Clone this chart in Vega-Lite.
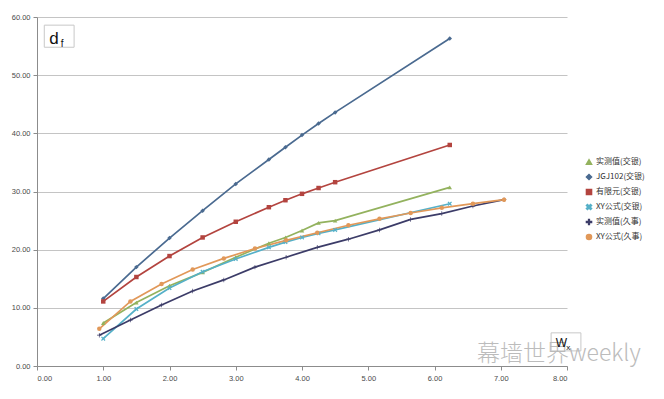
{
  "$schema": "https://vega.github.io/schema/vega-lite/v6.json",
  "width": 530,
  "height": 349,
  "autosize": "none",
  "padding": {"left": 37, "top": 17, "right": 97, "bottom": 33},
  "background": "white",
  "config": {
    "view": {"stroke": null},
    "font": "Liberation Sans",
    "axis": {"labelFont": "Liberation Sans", "labelFontSize": 7.5, "labelColor": "#4a4a4a", "domainColor": "#8c8c8c", "tickColor": "#8c8c8c", "tickSize": 4}
  },
  "datasets": {
    "main": [
      {"s": "实测值(交银)", "w": 1.0, "d": 7.4}, {"s": "实测值(交银)", "w": 1.5, "d": 10.9}, {"s": "实测值(交银)", "w": 2.0, "d": 13.8}, {"s": "实测值(交银)", "w": 2.5, "d": 16.1}, {"s": "实测值(交银)", "w": 3.0, "d": 18.7}, {"s": "实测值(交银)", "w": 3.5, "d": 21.1}, {"s": "实测值(交银)", "w": 3.75, "d": 22.1}, {"s": "实测值(交银)", "w": 4.0, "d": 23.3}, {"s": "实测值(交银)", "w": 4.25, "d": 24.6}, {"s": "实测值(交银)", "w": 4.5, "d": 25.0}, {"s": "实测值(交银)", "w": 6.23, "d": 30.7},
      {"s": "JGJ102(交银)", "w": 1.0, "d": 11.6}, {"s": "JGJ102(交银)", "w": 1.5, "d": 17.0}, {"s": "JGJ102(交银)", "w": 2.0, "d": 22.0}, {"s": "JGJ102(交银)", "w": 2.5, "d": 26.7}, {"s": "JGJ102(交银)", "w": 3.0, "d": 31.3}, {"s": "JGJ102(交银)", "w": 3.5, "d": 35.5}, {"s": "JGJ102(交银)", "w": 3.75, "d": 37.6}, {"s": "JGJ102(交银)", "w": 4.0, "d": 39.7}, {"s": "JGJ102(交银)", "w": 4.25, "d": 41.7}, {"s": "JGJ102(交银)", "w": 4.5, "d": 43.6}, {"s": "JGJ102(交银)", "w": 6.23, "d": 56.3},
      {"s": "有限元(交银)", "w": 1.0, "d": 11.1}, {"s": "有限元(交银)", "w": 1.5, "d": 15.3}, {"s": "有限元(交银)", "w": 2.0, "d": 18.9}, {"s": "有限元(交银)", "w": 2.5, "d": 22.1}, {"s": "有限元(交银)", "w": 3.0, "d": 24.8}, {"s": "有限元(交银)", "w": 3.5, "d": 27.3}, {"s": "有限元(交银)", "w": 3.75, "d": 28.5}, {"s": "有限元(交银)", "w": 4.0, "d": 29.6}, {"s": "有限元(交银)", "w": 4.25, "d": 30.6}, {"s": "有限元(交银)", "w": 4.5, "d": 31.6}, {"s": "有限元(交银)", "w": 6.23, "d": 38.0},
      {"s": "XY公式(交银)", "w": 1.0, "d": 4.7}, {"s": "XY公式(交银)", "w": 1.5, "d": 9.8}, {"s": "XY公式(交银)", "w": 2.0, "d": 13.4}, {"s": "XY公式(交银)", "w": 2.5, "d": 16.2}, {"s": "XY公式(交银)", "w": 3.0, "d": 18.4}, {"s": "XY公式(交银)", "w": 3.5, "d": 20.4}, {"s": "XY公式(交银)", "w": 3.75, "d": 21.3}, {"s": "XY公式(交银)", "w": 4.0, "d": 22.1}, {"s": "XY公式(交银)", "w": 4.25, "d": 22.8}, {"s": "XY公式(交银)", "w": 4.5, "d": 23.4}, {"s": "XY公式(交银)", "w": 6.23, "d": 27.9},
      {"s": "实测值(久事)", "w": 0.94, "d": 5.3}, {"s": "实测值(久事)", "w": 1.41, "d": 7.9}, {"s": "实测值(久事)", "w": 1.88, "d": 10.5}, {"s": "实测值(久事)", "w": 2.35, "d": 12.9}, {"s": "实测值(久事)", "w": 2.82, "d": 14.8}, {"s": "实测值(久事)", "w": 3.29, "d": 17.0}, {"s": "实测值(久事)", "w": 3.76, "d": 18.7}, {"s": "实测值(久事)", "w": 4.23, "d": 20.4}, {"s": "实测值(久事)", "w": 4.70, "d": 21.8}, {"s": "实测值(久事)", "w": 5.17, "d": 23.4}, {"s": "实测值(久事)", "w": 5.64, "d": 25.2}, {"s": "实测值(久事)", "w": 6.11, "d": 26.2}, {"s": "实测值(久事)", "w": 6.58, "d": 27.5}, {"s": "实测值(久事)", "w": 7.05, "d": 28.6},
      {"s": "XY公式(久事)", "w": 0.94, "d": 6.4}, {"s": "XY公式(久事)", "w": 1.41, "d": 11.1}, {"s": "XY公式(久事)", "w": 1.88, "d": 14.1}, {"s": "XY公式(久事)", "w": 2.35, "d": 16.6}, {"s": "XY公式(久事)", "w": 2.82, "d": 18.5}, {"s": "XY公式(久事)", "w": 3.29, "d": 20.2}, {"s": "XY公式(久事)", "w": 3.76, "d": 21.6}, {"s": "XY公式(久事)", "w": 4.23, "d": 22.9}, {"s": "XY公式(久事)", "w": 4.70, "d": 24.2}, {"s": "XY公式(久事)", "w": 5.17, "d": 25.3}, {"s": "XY公式(久事)", "w": 5.64, "d": 26.3}, {"s": "XY公式(久事)", "w": 6.11, "d": 27.2}, {"s": "XY公式(久事)", "w": 6.58, "d": 27.9}, {"s": "XY公式(久事)", "w": 7.05, "d": 28.6}
    ],
    "one": [{"k": 1}]
  },
  "layer": [
    {
      "data": {"name": "main"},
      "mark": {"type": "line", "strokeWidth": 1.7, "clip": false},
      "encoding": {
        "x": {"field": "w", "type": "quantitative", "scale": {"domain": [0, 8], "nice": false}, "axis": {"values": [0, 1, 2, 3, 4, 5, 6, 7, 8], "format": ".2f", "title": null, "grid": false, "labelPadding": 4}},
        "y": {"field": "d", "type": "quantitative", "scale": {"domain": [0, 60], "nice": false}, "axis": {"values": [0, 10, 20, 30, 40, 50, 60], "format": ".2f", "title": null, "grid": true, "gridColor": "#c4c4c4", "gridWidth": 1, "labelPadding": 3}},
        "color": {"field": "s", "type": "nominal", "title": null,
          "scale": {"domain": ["实测值(交银)", "JGJ102(交银)", "有限元(交银)", "XY公式(交银)", "实测值(久事)", "XY公式(久事)"],
                    "range": ["#93B25E", "#4A6A90", "#B3443F", "#55B0C8", "#3C3C68", "#E19859"]}},
        "detail": {"field": "s"}
      }
    },
    {
      "data": {"name": "main"},
      "mark": {"type": "point", "filled": true, "size": 20, "opacity": 1},
      "encoding": {
        "x": {"field": "w", "type": "quantitative"},
        "y": {"field": "d", "type": "quantitative"},
        "color": {"field": "s", "type": "nominal", "title": null,
          "legend": {"orient": "none", "legendX": 548, "legendY": 141, "labelFont": "Noto Sans CJK SC", "labelFontSize": 8, "labelColor": "#333", "symbolSize": 26, "rowPadding": 3, "labelOffset": 3}},
        "shape": {"field": "s", "type": "nominal", "title": null,
          "scale": {"domain": ["实测值(交银)", "JGJ102(交银)", "有限元(交银)", "XY公式(交银)", "实测值(久事)", "XY公式(久事)"],
                    "range": ["triangle-up", "diamond", "square", "M-1,-0.6L-0.6,-1L0,-0.4L0.6,-1L1,-0.6L0.4,0L1,0.6L0.6,1L0,0.4L-0.6,1L-1,0.6L-0.4,0Z", "M-0.15,-1H0.15V-0.15H1V0.15H0.15V1H-0.15V0.15H-1V-0.15H-0.15Z", "circle"]}}
      }
    },
    {
      "data": {"name": "one"},
      "mark": {"type": "rect", "fill": "white", "stroke": "#c8c8c8", "strokeWidth": 1, "clip": false},
      "encoding": {"x": {"datum": 0.11}, "x2": {"datum": 0.56}, "y": {"datum": 58.6}, "y2": {"datum": 54.8}}
    },
    {
      "data": {"name": "one"},
      "mark": {"type": "text", "fontSize": 17, "font": "Liberation Sans", "color": "#111", "align": "center", "baseline": "alphabetic", "dx": -3},
      "encoding": {"x": {"datum": 0.3}, "y": {"datum": 55.4}, "text": {"value": "d"}}
    },
    {
      "data": {"name": "one"},
      "mark": {"type": "text", "fontSize": 10, "font": "Liberation Sans", "color": "#111", "align": "left", "baseline": "alphabetic"},
      "encoding": {"x": {"datum": 0.36}, "y": {"datum": 54.9}, "text": {"value": "f"}}
    },
    {
      "data": {"name": "one"},
      "mark": {"type": "rect", "fill": "white", "stroke": "#c8c8c8", "strokeWidth": 1, "clip": false},
      "encoding": {"x": {"datum": 7.76}, "x2": {"datum": 8.21}, "y": {"datum": 5.7}, "y2": {"datum": 2.6}}
    },
    {
      "data": {"name": "one"},
      "mark": {"type": "text", "fontSize": 23, "font": "Noto Sans CJK SC", "fontWeight": 300, "color": "#b5b5b5", "opacity": 0.9, "align": "left", "baseline": "alphabetic"},
      "encoding": {"x": {"datum": 6.64}, "y": {"datum": 0.9}, "text": {"value": "幕墙世界weekly"}}
    },
    {
      "data": {"name": "one"},
      "mark": {"type": "text", "fontSize": 12, "font": "Liberation Sans", "color": "#111", "align": "left", "baseline": "alphabetic"},
      "encoding": {"x": {"datum": 7.83}, "y": {"datum": 3.3}, "text": {"value": "W"}}
    },
    {
      "data": {"name": "one"},
      "mark": {"type": "text", "fontSize": 8, "font": "Liberation Sans", "color": "#111", "align": "left", "baseline": "alphabetic"},
      "encoding": {"x": {"datum": 7.99}, "y": {"datum": 2.8}, "text": {"value": "x"}}
    }
  ]
}
